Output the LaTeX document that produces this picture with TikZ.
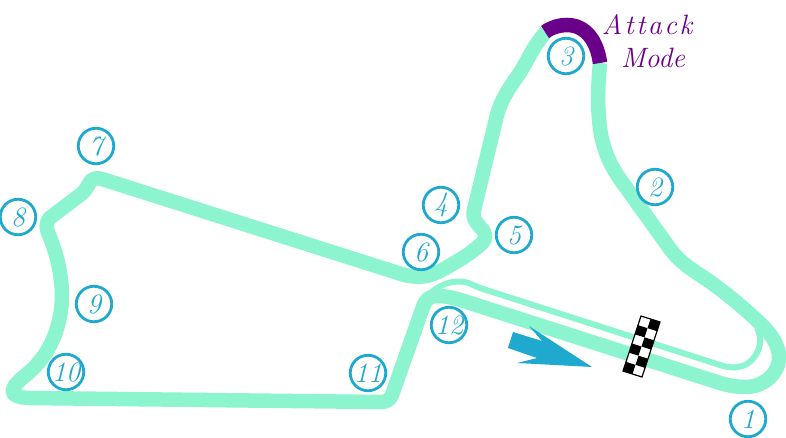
\documentclass[tikz,border=0pt]{standalone}
\usepackage{fontspec}
\setmainfont{Latin Modern Roman}
\definecolor{trackc}{HTML}{8CF4CE}
\definecolor{markc}{HTML}{1FA9CF}
\definecolor{attackc}{HTML}{6A008A}
\tikzset{
  trackline/.style={draw=trackc,line width=14.5pt,line cap=butt,line join=round},
  pitline/.style={draw=trackc,line width=6pt,line join=round},
  turn/.style={circle,draw=markc,line width=2.8pt,minimum size=35.5pt,inner sep=0pt,text=markc,font=\fontsize{28}{28}\selectfont\itshape},
  attacktext/.style={text=attackc,font=\fontsize{28}{28}\selectfont\itshape,align=center}
}
\begin{document}
\begin{tikzpicture}[x=1pt,y=-1pt]
\useasboundingbox (0,0) rectangle (786,438);
% pit lane
\draw[pitline] (428,296) .. controls (436,287) and (446,282) .. (458,281.5) .. controls (468,281) and (472,285) .. (480,288) -- (720,365) .. controls (735,370) and (748,367) .. (755,356) .. controls (761,347) and (762,338) .. (757,328);
% main track
\draw[trackline] (600,63) .. controls (598,85) and (597,105) .. (600,128) .. controls (603,150) and (610,165) .. (622,182) -- (668,246) .. controls (677,259) and (685,265) .. (700,275) .. controls (720,288) and (742,306) .. (762,325) .. controls (772,335) and (779,346) .. (779,357) .. controls (779,375) and (762,387) .. (746,387) .. controls (738,387) and (730,386) .. (720,383) -- (470,303) .. controls (455,298) and (447,296) .. (437,296) .. controls (430,296) and (426,299) .. (423,307) -- (393,392) .. controls (391,399) and (388,402) .. (380,402) -- (30,398) .. controls (17,398) and (11,394) .. (13,389) .. controls (15,384) and (20,380) .. (27,374) .. controls (48,357) and (61,330) .. (62,297) .. controls (62,273) and (56,252) .. (49,235) .. controls (46,228) and (45,222) .. (51,217) -- (80,195) .. controls (87,190) and (88,185) .. (90,182) .. controls (92,179) and (96,177) .. (102,179) -- (395,272) .. controls (412,278) and (425,279) .. (440,271) .. controls (455,263) and (470,254) .. (480,245) .. controls (487,239) and (487,234) .. (481,228) .. controls (476,222) and (472,219) .. (474,210) -- (497,115) .. controls (501,100) and (509,88) .. (519,74) .. controls (527,62) and (533,46) .. (546,32);
% attack mode section
\draw[draw=attackc,line width=14.5pt] (545,32) .. controls (552,27) and (560,25) .. (567,25) .. controls (585,25) and (597,40) .. (600,63);
% start arrow
\fill[markc] (513,332) -- (542,341) -- (529,326) -- (592,367) -- (517,363) -- (537,358) -- (508,348) -- cycle;
% chequered flag
\begin{scope}[shift={(641,316)},x={(9.5pt,-3pt)},y={(-3pt,-9.17pt)}]
\fill[white] (0,0) -- (2,0) -- (2,6) -- (0,6) -- cycle;
\foreach \r/\c in {0/1,1/0,2/1,3/0,4/1,5/0}{
  \pgfmathtruncatemacro{\rr}{\r+1}
  \pgfmathtruncatemacro{\cc}{\c+1}
  \fill[black] (\c,\r) -- (\cc,\r) -- (\cc,\rr) -- (\c,\rr) -- cycle;
}
\draw[black,line width=1.2pt] (0,0) -- (2,0) -- (2,6) -- (0,6) -- cycle;
\end{scope}
% turn numbers
\node[turn] (t1) at (748,419) {1};
\node[turn] (t2) at (655,187) {2};
\node[turn] (t3) at (566,56) {3};
\node[turn] (t4) at (441,205) {4};
\node[turn] (t5) at (514,235) {5};
\node[turn] (t6) at (421,252) {6};
\node[turn] (t7) at (96,146) {7};
\node[turn] (t8) at (18,217) {8};
\node[turn] (t9) at (94,304) {9};
\node[turn] (t10) at (66,372) {10};
\node[turn] (t11) at (368,373) {11};
\node[turn] (t12) at (449,325) {12};
\node[attacktext] (am) at (647,41) {A\kern2.5pt t\kern2.5pt t\kern2.5pt a\kern2.5pt c\kern2.5pt k\\[5pt]\hspace*{12pt}Mode};
\end{tikzpicture}
\end{document}
